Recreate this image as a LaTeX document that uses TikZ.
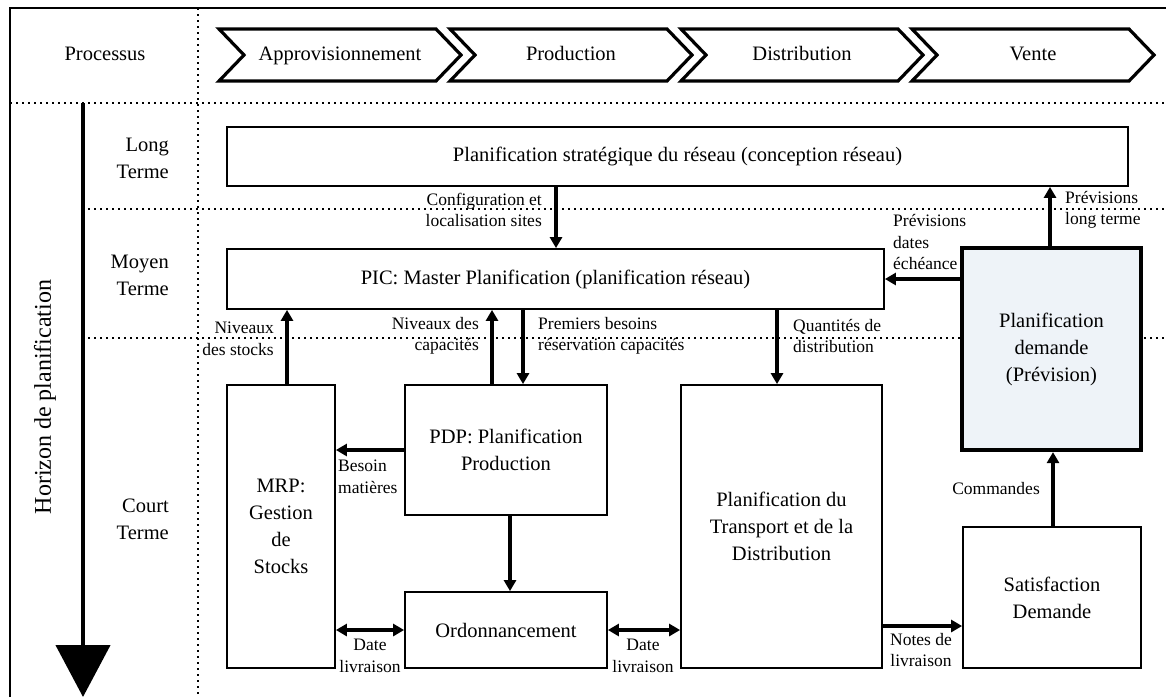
\documentclass[tikz,border=0pt]{standalone}
\usepackage{fontspec}
\setmainfont{Liberation Serif}
\usetikzlibrary{arrows.meta}
\definecolor{demfill}{RGB}{238,243,248}
\begin{document}
\begin{tikzpicture}[x=1pt,y=-1pt,
  mainfont/.style={font=\fontsize{20.5}{27}\selectfont},
  lblfont/.style={font=\fontsize{17.5}{21.5}\selectfont},
  box/.style={draw, line width=1.8pt, fill=white, align=center, inner sep=0pt, mainfont},
  chev/.style={draw, line width=3.2pt, line join=miter, fill=white},
  dots/.style={line width=1.6pt, dash pattern=on 1.6pt off 4.4pt},
  frameline/.style={line width=1.8pt},
  arr/.style={line width=3.5pt, -{Triangle[length=11pt,width=12pt]}},
  darr/.style={line width=3.5pt, {Triangle[length=11pt,width=12pt]}-{Triangle[length=11pt,width=12pt]}},
  lbl/.style={lblfont, inner sep=0pt},
  rowlbl/.style={mainfont, align=right, anchor=east, inner sep=0pt},
  chevtext/.style={mainfont, inner sep=0pt, text height=15pt, text depth=4pt}
]
\useasboundingbox (0,0) rectangle (1166,697);

% frame
\draw[frameline] (10,697) -- (10,8) -- (1166,8);

% dotted grid
\draw[dots] (10,103) -- (1166,103);
\draw[dots] (198,8) -- (198,697);
\draw[dots] (88,209) -- (1166,209);
\draw[dots] (88,338) -- (1166,338);

% time axis arrow
\coordinate (htop) at (83,103);
\coordinate (hbot) at (83,697);
\draw[line width=4.5pt, -{Triangle[length=52pt,width=54pt]}] (htop) -- (hbot);
\node[font=\fontsize{24}{28}\selectfont, rotate=90, inner sep=0pt] (horizon) at (45,397) {Horizon de planification};

% row labels
\node[chevtext] (proc) at (105,55) {Processus};
\node[rowlbl] (lt) at (169,158) {Long\\Terme};
\node[rowlbl] (mt) at (169,275) {Moyen\\Terme};
\node[rowlbl] (ct) at (169,519) {Court\\Terme};

% chevrons
\draw[chev] (219,29) -- (436,29) -- (461,55) -- (436,81) -- (219,81) -- (244,55) -- cycle;
\draw[chev] (450,29) -- (667,29) -- (692,55) -- (667,81) -- (450,81) -- (475,55) -- cycle;
\draw[chev] (681,29) -- (898,29) -- (923,55) -- (898,81) -- (681,81) -- (706,55) -- cycle;
\draw[chev] (912,29) -- (1129,29) -- (1154,55) -- (1129,81) -- (912,81) -- (937,55) -- cycle;
\node[chevtext] (c1) at (340,55) {Approvisionnement};
\node[chevtext] (c2) at (571,55) {Production};
\node[chevtext] (c3) at (802,55) {Distribution};
\node[chevtext] (c4) at (1033,55) {Vente};

% boxes
\node[box, minimum width=901pt, minimum height=59pt] (strat) at (677.5,156.5) {Planification stratégique du réseau (conception réseau)};
\node[box, minimum width=657pt, minimum height=60pt] (pic) at (555.5,279) {PIC: Master Planification (planification réseau)};
\node[box, minimum width=108pt, minimum height=283pt] (mrp) at (281,526.5) {MRP:\\Gestion\\de\\Stocks};
\node[box, minimum width=202pt, minimum height=130pt] (pdp) at (506,450) {PDP: Planification\\Production};
\node[box, minimum width=202pt, minimum height=76pt] (ordo) at (506,630) {Ordonnancement};
\node[box, minimum width=201pt, minimum height=283pt] (trans) at (781.5,526.5) {Planification du\\Transport et de la\\Distribution};
\node[box, line width=4.2pt, fill=demfill, minimum width=179pt, minimum height=202pt] (dem) at (1051.5,349) {Planification\\demande\\(Prévision)};
\node[box, minimum width=178pt, minimum height=141pt] (sat) at (1052,597.5) {Satisfaction\\Demande};

% x positions of vertical connectors
\coordinate (xconf) at (556,0);
\coordinate (xstock) at (287,0);
\coordinate (xcapa) at (492,0);
\coordinate (xbes) at (523,0);
\coordinate (xquant) at (777,0);
\coordinate (xlong) at (1050,0);
\coordinate (xcmd) at (1053,0);
\coordinate (xordo) at (510,0);
\coordinate (ynotes) at (0,626);

% connectors
\draw[arr] (strat.south -| xconf) -- (pic.north -| xconf);
\draw[arr] (mrp.north -| xstock) -- (pic.south -| xstock);
\draw[arr] (pdp.north -| xcapa) -- (pic.south -| xcapa);
\draw[arr] (pic.south -| xbes) -- (pdp.north -| xbes);
\draw[arr] (pic.south -| xquant) -- (trans.north -| xquant);
\draw[arr] (dem.north -| xlong) -- (strat.south -| xlong);
\draw[arr] (dem.west |- pic.east) -- (pic.east);
\draw[arr] (sat.north -| xcmd) -- (dem.south -| xcmd);
\draw[arr] (pdp.west) -- (mrp.east |- pdp.west);
\draw[arr] (pdp.south -| xordo) -- (ordo.north -| xordo);
\draw[darr] (mrp.east |- ordo.west) -- (ordo.west);
\draw[darr] (ordo.east) -- (trans.west |- ordo.east);
\draw[arr] (trans.east |- ynotes) -- (sat.west |- ynotes);

% connector labels
\node[lbl, align=right, anchor=east] (lconf) at (542,210) {Configuration et\\localisation sites};
\node[lbl, align=right, anchor=east] (lstock) at (274,339) {Niveaux\\des stocks};
\node[lbl, align=right, anchor=east] (lcapa) at (479,336) {Niveaux des\\capacités};
\node[lbl, align=left, anchor=west] (lbes) at (538,336) {Premiers besoins\\réservation capacités};
\node[lbl, align=left, anchor=west] (lquant) at (793,336) {Quantités de\\distribution};
\node[lbl, align=left, anchor=west] (ldates) at (893,242) {Prévisions\\dates\\échéance};
\node[lbl, align=left, anchor=west] (llong) at (1065,210) {Prévisions\\long terme};
\node[lbl, align=left, anchor=west] (lmat) at (338,477) {Besoin\\matières};
\node[lbl, align=center] (ldate1) at (370,656) {Date\\livraison};
\node[lbl, align=center] (ldate2) at (643,656) {Date\\livraison};
\node[lbl, align=center] (lnotes) at (921,650) {Notes de\\livraison};
\node[lbl, anchor=east] (lcmd) at (1040,489) {Commandes};
\end{tikzpicture}
\end{document}
